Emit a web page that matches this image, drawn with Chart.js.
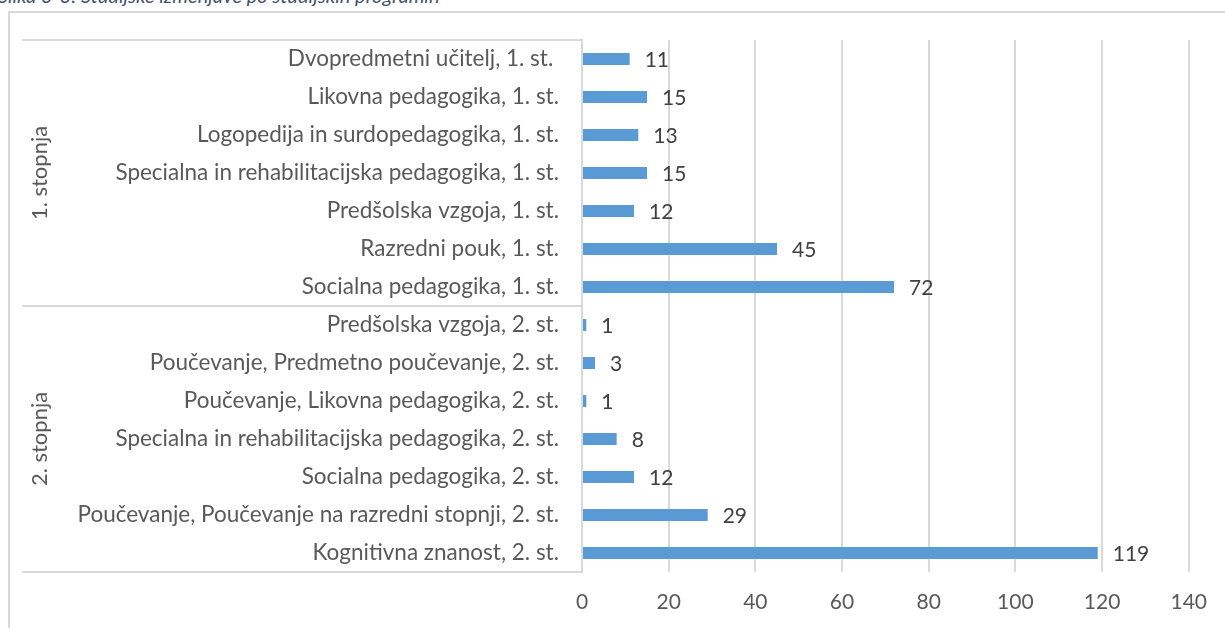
<!DOCTYPE html>
<html>
<head>
<meta charset="utf-8">
<script src="https://cdn.jsdelivr.net/npm/chart.js@4.4.0/dist/chart.umd.min.js"></script>
<style>
	html, body { margin: 0; padding: 0; background: #fff; overflow: hidden; }
	#wrap { position: relative; width: 1225px; height: 628px; }
	#naslov {
		position: absolute; left: -2px; top: -17px;
		font-family: Lato, sans-serif; font-style: italic; font-size: 20px;
		color: #44546a; white-space: nowrap;
	}
	#okvir {
		position: absolute; left: 8px; top: 11px; width: 1240px; height: 640px;
		border: 2px solid #d9d9d9; box-sizing: border-box;
	}
</style>
</head>
<body>
<div id="wrap">
	<div id="naslov">Slika 3-3: Študijske izmenjave po študijskih programih</div>
	<div id="okvir"></div>
	<canvas id="myChart" width="1225" height="628" style="position:absolute;left:0;top:0;"></canvas>
</div>
<script>
// programi od zgoraj navzdol
var programi = [
	'Dvopredmetni učitelj, 1. st. ',
	'Likovna pedagogika, 1. st.',
	'Logopedija in surdopedagogika, 1. st.',
	'Specialna in rehabilitacijska pedagogika, 1. st.',
	'Predšolska vzgoja, 1. st.',
	'Razredni pouk, 1. st.',
	'Socialna pedagogika, 1. st.',
	'Predšolska vzgoja, 2. st.',
	'Poučevanje, Predmetno poučevanje, 2. st.',
	'Poučevanje, Likovna pedagogika, 2. st.',
	'Specialna in rehabilitacijska pedagogika, 2. st.',
	'Socialna pedagogika, 2. st.',
	'Poučevanje, Poučevanje na razredni stopnji, 2. st.',
	'Kognitivna znanost, 2. st.'
];
var izmenjave = [11, 15, 13, 15, 12, 45, 72, 1, 3, 1, 8, 12, 29, 119];

// skupine (stopnje) in koliko programov je v vsaki
var stopnje = ['1. stopnja', '2. stopnja'];
var stProgramov = [7, 7];

var osX = { min: 0, max: 140, korak: 20 };

var siva = '#d9d9d9';
var pisava = 'Lato, sans-serif';

// vrednosti na koncu stolpcev
var oznakePlugin = {
	id: 'oznake',
	afterDatasetsDraw: function(chart) {
		var ctx = chart.ctx;
		var meta = chart.getDatasetMeta(0);
		ctx.save();
		ctx.font = '21px ' + pisava;
		ctx.fillStyle = '#404040';
		ctx.textAlign = 'left';
		ctx.textBaseline = 'middle';
		meta.data.forEach(function(bar, i) {
			ctx.fillText(String(izmenjave[i]), bar.x + 15, bar.y + 1);
		});
		ctx.restore();
	}
};

// crte in napisi skupin na levi
var skupinePlugin = {
	id: 'skupine',
	afterDraw: function(chart) {
		var ctx = chart.ctx;
		var y = chart.scales.y;
		var levo = 22;
		var desno = chart.chartArea.left;
		var pol = (y.getPixelForValue(1) - y.getPixelForValue(0)) / 2;
		ctx.save();
		ctx.strokeStyle = siva;
		ctx.lineWidth = 2;
		var zac = 0;
		var meje = [y.getPixelForValue(0) - pol];
		for (var g = 0; g < stopnje.length; g++) {
			var kon = zac + stProgramov[g] - 1;
			meje.push(y.getPixelForValue(kon) + pol);
			var sred = (y.getPixelForValue(zac) + y.getPixelForValue(kon)) / 2;
			ctx.save();
			ctx.translate(40, sred);
			ctx.rotate(-Math.PI / 2);
			ctx.font = '22px ' + pisava;
			ctx.fillStyle = '#595959';
			ctx.textAlign = 'center';
			ctx.textBaseline = 'middle';
			ctx.fillText(stopnje[g], 0, 0);
			ctx.restore();
			zac = kon + 1;
		}
		meje.forEach(function(m) {
			ctx.beginPath();
			ctx.moveTo(levo, m);
			ctx.lineTo(desno, m);
			ctx.stroke();
		});
		ctx.restore();
	}
};

var config = {
	type: 'bar',
	data: {
		labels: programi,
		datasets: [{
			data: izmenjave,
			backgroundColor: '#5b9bd5',
			borderWidth: 0,
			barPercentage: 0.32,
			categoryPercentage: 1
		}]
	},
	options: {
		indexAxis: 'y',
		responsive: false,
		animation: false,
		layout: { padding: { top: 40, right: 35, left: 0, bottom: 0 } },
		plugins: {
			legend: { display: false },
			tooltip: { enabled: false }
		},
		scales: {
			x: {
				min: osX.min,
				max: osX.max,
				ticks: {
					stepSize: osX.korak,
					color: '#595959',
					font: { family: pisava, size: 21 },
					padding: 18
				},
				grid: { color: siva, lineWidth: 2, drawTicks: false },
				border: { display: false },
				afterFit: function(scale) { scale.height = 56; }
			},
			y: {
				ticks: {
					color: '#595959',
					font: { family: pisava, size: 22.5 },
					padding: 23,
					autoSkip: false
				},
				grid: { display: false, drawTicks: false },
				border: { display: true, color: siva, width: 2 },
				afterFit: function(scale) { scale.width = 582; }
			}
		}
	},
	plugins: [oznakePlugin, skupinePlugin]
};

var ctx = document.getElementById('myChart').getContext('2d');
window.myBar = new Chart(ctx, config);
</script>
</body>
</html>
